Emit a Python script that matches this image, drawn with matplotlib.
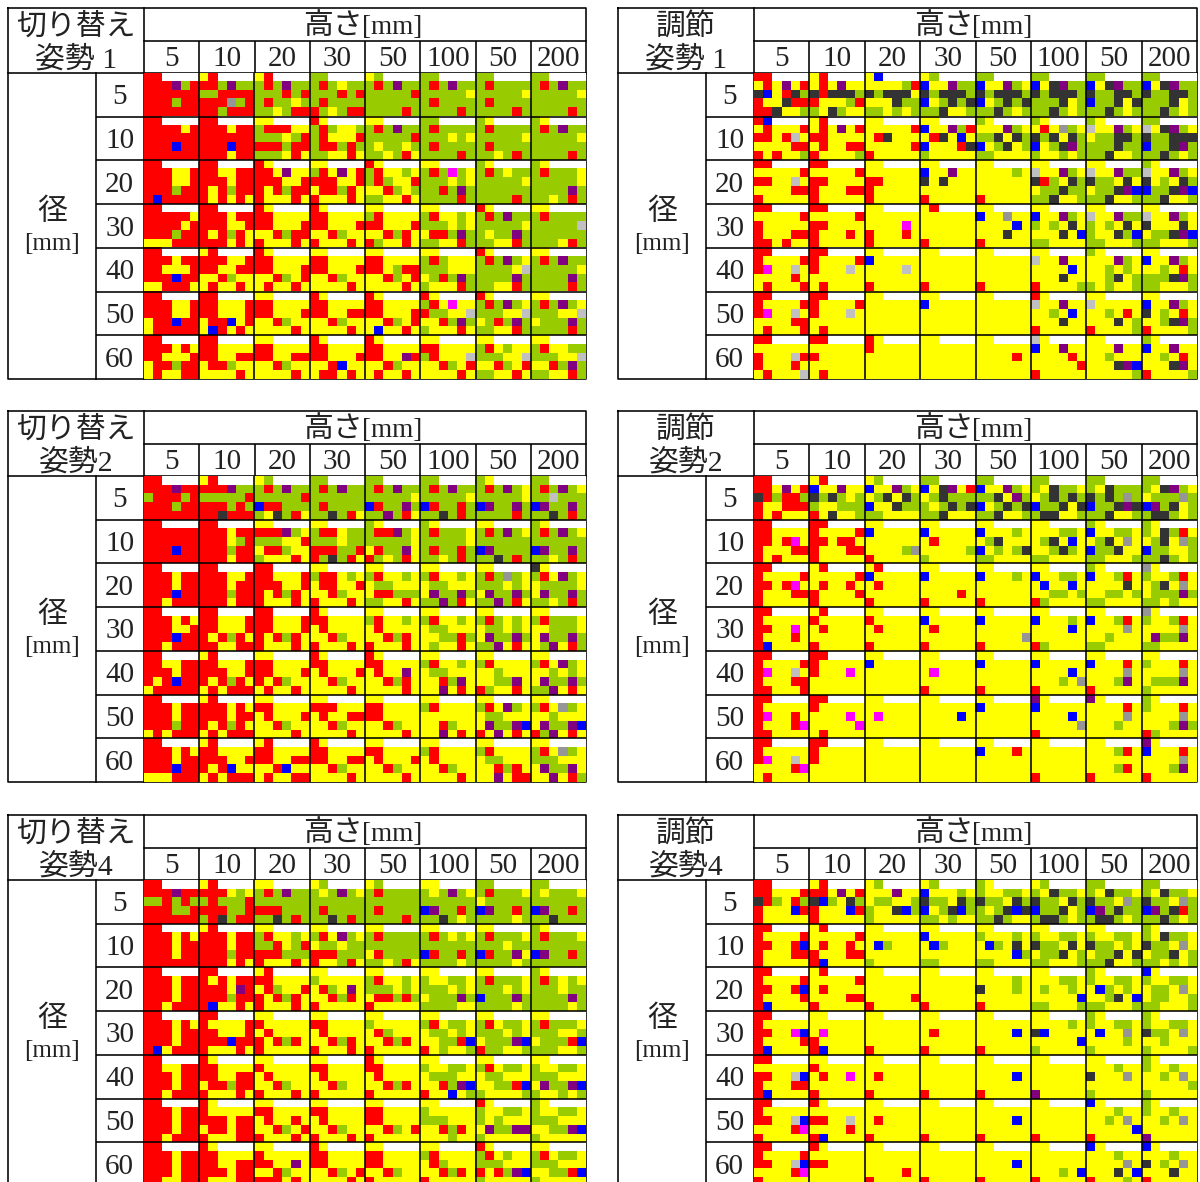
import numpy as np
import matplotlib
matplotlib.use('Agg')
import matplotlib.pyplot as plt
from matplotlib.colors import ListedColormap

# colour code of each small square
codes = 'WRYGPBKSLM'
colors = ['#FFFFFF', '#FF0000', '#FFFF00', '#99CC00', '#800080', '#0000FF',
          '#333333', '#969696', '#C0C0C0', '#FF00FF']

heights = ['5', '10', '20', '30', '50', '100', '50', '200']
diameters = ['5', '10', '20', '30', '40', '50', '60']

# one string per diameter, one token per height, rows of a cell split by /
switch_1 = [
    'RR/RRRPGR/RRRRRR/RRRGRR/RRRRRR YR/RRGPGG/GGRRRR/RRRSGR/RRGRRR YR/GRGPGG/GGGRGR/GRGGYG/GGYGRR GG/GRGYGG/GGGRGR/GRGGGG/RGYGRR YG/GRGPGG/GGGGGR/GGGGGG/GGGGRG GG/GRGPGG/GGGGGY/GRGGGG/GGGGRG GG/GRGGGG/GGGGGY/GRGGGG/GGGGRG GG/GRGPGG/GGGGGY/GGGGGG/GGGGRG',
    'RR/RRRRYR/RRRRRR/RRRBRR/RRRRRR RR/RRRYRR/RRRRRR/RRRBRR/RRRYRR YY/GRRRYY/GGGYGR/RRRGRR/GGGYRY RY/GRGYYG/GRYYYR/GRRGRG/GGYYRY YY/GRGPGG/GGGGGR/GYGGYG/GGYGRY GG/GRGGGG/GGGYGY/GRGGGG/GGGGRG GY/GRGGGG/GGGGGY/GRGGGG/GGYGRG GY/GRGPGG/GGGGGY/GGGGGG/GGGGRG',
    'RR/RRRYYR/RRRYYR/RRRGRR/RBRRRR RR/RRYYRR/RRRYRR/RYRGRR/RYRYRY RY/RRYPYY/RRRYYR/RYRGRR/RYYYRY YY/GRYPYR/RRRYYR/YRRGRY/RYYYRY RY/GRYYGY/GRGYYR/YYRGYG/GGYYRY YY/GRGMGY/GGGYGY/GGRGPG/GGGGRG GY/GRGYGG/GGGGGY/GGGGGG/GGGGRG GY/GRGGGY/GGGGGY/GGGGPG/GGYGRG',
    'RR/RRRRRY/RRRRYR/RRRGRR/YYYRRR RR/RRRYRR/RRRYYR/RYRGRY/RRRYRY RY/RRYYYY/RRYYYR/YYRGRR/RYYYRY RY/RRYYYY/RRYYYR/YYRGYY/RYYYRY YY/GRYYYY/RRYYYR/YYRGRY/RGYYRY YY/GRYYGY/GGGYGY/YRRGPG/GGYYRG RY/GRGPGG/GGGGGY/GYGGPG/GGYYRG YY/GRGGGG/GGGGGL/GGGGGG/GGGYRG',
    'RR/RRRYRR/RRYYYR/RRRBRR/YYRRRY YR/RRRYYR/RRYYRR/YYRGYY/YRYYRY RY/RRYYYY/RRYYYR/YYRGYR/YRYYRY YY/RRYYYY/RRYYYR/YYRGYY/YYYYRY YY/RRYYYY/RRYGRR/YYRGYR/YYYYRY YY/GRGYYY/GGGYYY/YGRGPG/GYYYRG RY/GRGPGY/GGGGYL/GGGGPG/GGYYRG YY/GRGPGG/GGGGGY/GGGGPG/GGGGRG',
    'RR/RRRYYR/RRRYYR/YRRBRR/YRRRRR RR/RRYYYR/RRYYYR/YRRBYR/YBRYRY YY/RRYYYY/RRYYYR/YYRGYY/YYYYRY RY/RRYYYY/RRYYRR/YYRGYY/YYYYRY RY/RRYYYY/RRYYYR/YYRGYR/YBYYRY RY/GRYMYY/RGGYYL/YYRGPG/GYYYRY RY/GRGPGY/GGGYYL/YGRGPG/GGYYRG YY/GRGPGY/GGGYYL/YGGGPG/GGGGRG',
    'RR/RRRYRY/RRYYYR/YRRGRR/YRYYRR RR/RRYYYY/RRYYRR/YRRGYY/YYYYRY YY/RRYYYY/RRYYRR/YYRGYY/YYYYRY RY/RRYYYY/RRYYYR/YYRBYY/YRRYRY RY/RRYYYY/RRYYPR/YYRGYY/YRYYRY YY/RRYYYY/GRYYYL/YYRGYR/YYYYRY YY/GRYGYY/GGGYYL/YYRGYR/GGYYRY YY/GRYYGG/GGGYYL/YYRGPG/GGYYRG',
]
adjust_1 = [
    'RR/YRYPYR/KBYRKG/RYYKRR/RRKYYG YR/YRYPYY/KRKKKG/RYYYGR/GYKGYY YB/YYYYGR/KGKKKY/YYYKGG/GGYGYG YG/BYYPGG/KGKKKG/BYGKGK/GGKYYG GG/BYYPGY/KGKKKG/BYGKGK/GGKGYG GG/BYKPGG/KGKKKG/GGGKYG/GGKGYG GG/BYKPGG/KGGKKG/BGGKYK/GGKGYG GG/BYKPGG/KGGKKG/GGGKYG/GGKGYG',
    'RB/YRYYYR/RRYRLY/YYYYRR/RYRYYG YR/YRYPYR/RRYYYY/YRYYRR/RYYYYG YY/YYYYYR/YRKYYY/YYYYYR/RYYYYY YY/BYYPGR/YRKYBY/BYYYRK/GYYYYY GY/YYYPGY/GGKYKG/BYGKYG/GGYYYY GY/YRYSGY/KGKYKG/BYGKPG/GYYGYG GY/LYYPGY/YGGKKG/GGGKGG/GGKYYG GG/LYKPGY/KGGKKK/BGGKPG/GGKGYG',
    'RR/YYYYYR/RRYYLY/YYYYRR/RYYYYY RR/YYYYYR/RRYYYY/RYYYRR/RYYYYY YY/YYYYYY/RRYYYY/RYYYYY/RYYYYY YY/BYYPYY/KYKYYY/YYYYYY/RYYYYY YY/YYYYGY/YYYYYY/YYYYYY/RYYYYY YY/LYYPGY/KRGYKG/YGGKGG/GGKYYG YY/LYYPGG/KGGYKY/YGGKPB/GGKYYG GY/LYYPGY/KYGYKG/BGGKPB/GGKYYG',
    'RR/YYYYYR/RYYYYY/RYYYRR/RRYRYY RR/YYYYYR/RRYYYY/RYYYRY/RYYYYY YY/YYYYYY/YYYYMY/RYYYRY/RYYYYY YR/YYYYYY/YYYYYY/YYYYYY/RYYYYY YY/BYYSYY/YYYYBY/YYYKYY/RYYYYY YY/BYYPGY/GYGYKY/YYYKYB/GGYYYY YY/LYYPGG/GYGYKY/GYYKGB/GGYYYG YY/LYYPGY/KYYYKY/YGGKPB/GGYYYG',
    'RR/RYYYYR/RMYYLY/YYYYRY/YRYYYR RR/RYYYYR/RYYYLY/YYYYYY/YRYYYY YY/BYYYYY/YYYYLY/YYYYYY/RYYYYY YY/YYYYYY/YYYYYY/YYYYYY/RYYYYY YY/YYYYYY/YYYYYY/YYYYYY/RYYYYY YY/LYYPYY/YYYYBY/YYYKYY/RYYYYG GY/YYYPGY/YYGYGY/YYGKYG/GYGYYG YY/BYYPGY/YYGYRY/GGGKPG/GGYYYG',
    'RR/RYYYYR/RMYYLY/YYYYRR/YRYYYR RR/RYYYYR/RYYYLY/YYYYYY/YRYYYY YY/YYYYYY/YYYYYY/YYYYYY/YYYYYY YY/BYYYYY/YYYYYY/YYYYYY/YYYYYY YY/YYYYYY/YYYYYY/YYYYYY/YYYYYY RY/LYYPYY/YYGYBY/YYYKYY/RYYYYY YY/LYYYYY/YYGYRY/YYYKYG/RYYYYG YY/BYYPGY/KYGYRY/YYGKPG/RYYYYG',
    'RR/YYYYYY/RYYYLR/RYYYRY/YRYYYL RR/YYYYYY/RYYYYY/YYYYYY/YRYYYY RY/RYYYYY/YYYYYY/YYYYYY/YYYYYY YY/YYYYYY/YYYYYY/YYYYYY/YYYYYY YY/YYYYYY/YYYYRY/YYYYYY/YYYYYY LY/BYYPYY/YYYYRY/YYYYYR/RYYYYY YY/YYYPYY/YYGYYY/YYYKPB/YYYYYG GY/BYYPYY/YYGYRY/YYYKPY/RYYYYG',
]
switch_2 = [
    'RR/RRRPRR/GRRRGR/RRRGRR/RRRRRR YR/RRRPGG/GGGGGR/RRRGRG/RRKRRR YG/GRGPGG/GGGGGR/BRRGGG/GYKGRY GG/GRGPGG/GGGGGG/GRGGGG/GGKGRY GG/GRGPGG/GGGGGY/BRGGPG/GGPGRY GG/GRGPGG/GGGGGY/BRGGRG/GGKGRG GY/GRGPGY/GGGGGY/BPGGPG/GGGGRG GG/GRGPGY/GGLGGG/BPGGPG/GGKGRG',
    'RR/RRRRRR/RRRRRR/RRRBRR/RRRRRR RR/RRRYRR/RRRYGR/RRRGRR/RRRYRR YY/RRRPGY/GGGYYR/YRRGYY/GYYYRY YY/GRRYGG/GGGYGG/RRRGGR/RGKGRY GY/GRRPGY/GGGGGY/YRGGPY/RGYGRY GY/GRGGGY/GGGGGY/GRGGRG/GGYGRG YY/GRGPGY/GGGGGG/BPGGGG/GGKGRG GY/GRGPGY/GGGGGG/BPGGPG/GGYGRG',
    'RR/RRRYRR/RRRYRR/RRRBRR/RRYRRR RR/RRRYYR/RRRYRR/RRRGRR/RRRYRR RR/RRYYYR/RRRYYR/RYRGRY/RYYYRY YY/GRRYGY/YRRYYR/YYRGYY/RYYYRY YY/GRYYGY/YGGYYY/YRRGGG/GGYYRY YY/GRYYGY/YGGYYY/YPGGPG/GGPGRY YY/GRGSGY/GGGYGY/YPGGPG/GGPGRY KY/GRYPGY/YGGGGY/YPGGPG/GGYGRG',
    'RR/RRRYRY/RRRYYR/RRRBRR/RRYRRR RR/RRYYYR/RRYYYR/RYRGRY/RRYYRR RR/RRYYYR/RRYYYR/RYRGRY/RYYYRY RY/RRYYYY/YRYYYY/YYRGYY/RYYYRY YY/GRYYGY/YRYYYY/YYRGRY/RYYYRY YY/GRYYGY/YGGYYY/YYGGRG/YGYYRY YY/GRGYGY/YGGYGY/YPGGPG/GGPYRY YY/GRGGGY/YYGGGY/YPGGPG/YGPYRG',
    'RR/RRYYRR/RRRYRR/RYRBRR/YRRRRR YR/RRYYYR/RRRYYR/RYRGRY/YRYRRR YY/RRYYYY/RRYYYR/RYRGYY/YRYYRY RY/RRYYYY/YRYYYR/YYRGYY/YYYYRY RY/RRYYYY/YRYYPY/YYRGRY/YYYYRY YY/GRYYGY/YGGYYY/YYRGPY/YYPYRY YY/GRYYYY/YYGYYY/YYGGPY/RGYYRY YY/GRYPGY/YYGYGY/YPGGPG/GGPYRY',
    'RR/RRRYRR/RRRYRR/RRRGRR/YRYRRR YR/RRRYRY/RRRYRR/RYRGRY/YRYRRR YY/RRYYYY/YRYYYR/YYRGYY/YYYYRY YY/RRRYYY/YRYYRR/YYRGYY/YYYYRY YY/RRYYYY/RRYYYY/YYRGYY/YYYYRY YY/GRYYYY/YYYYYY/YYRGYY/YYPYRY YY/GRYPGY/YGGYYY/YPGGPB/RYPYRY YY/GRYSGY/YYGYYY/YPGGPB/RGPYRY',
    'RR/RRRYRY/RRRYRR/RRRBRR/YYYRRR YR/RRYYYY/RRRYYR/RYRBYY/YRYRRR YR/RRYYYY/RRYYRR/YYRBYY/YRYYRR RY/RRYYYY/RRYYRR/YYRGYY/YYYYRY YY/RRYYYY/YRYYYR/YYRGYY/YYYYRY YY/GRYYYY/YRYYYY/YYRGYY/YYYYRY YY/GRYYYY/YGGYYY/YYRGRY/YYPYRR YY/GRYSGY/GGGYYY/YPGGPY/YYPYRG',
]
adjust_2 = [
    'RR/RRYPYR/KRGRRG/RYYRRR/RYRYYY YR/BYYPYY/KGKGYG/GYYGGG/RYKYYG YG/BYYPGY/YGKYKG/BYYKGG/GGYYYY GG/BYKPYR/YGKGGG/GYGKGK/GGKYYY GG/BYYPGY/GGKYPG/BYGKGK/GGKYYG GG/GYKGGY/YGKGKG/BGGKYK/GKKYYG GG/GYKGGG/KGKGSG/BGGKPK/GGKYYG GG/GYKPGY/YGGGSG/BPGKYG/GKKGYG',
    'RR/RRYYYY/RRYRMY/RYYYRR/RYRYYY RR/RYYYYR/RRYRRY/RYYYRR/RYYYYY YY/BYYYYY/YYYYYY/YYYYGS/RYYYYY YY/BYYYYY/YRYYYY/YYYYYG/GYYYYY YY/BYYYGY/YGKYYY/BYGYGK/GGYYYY YY/YYYGGY/YGKYBY/YYGKGY/GGYYYY GY/BYYGGY/YGKYSY/BGGKYY/GGYYYG GY/GYKGRY/YGKYSG/BGGYYG/GGKGYG',
    'RR/RYYYYR/RRYRMY/RYYYRR/RYYYYY YR/YYYYYR/YRYYRY/RYYYYR/RYYYYY YR/BYYYYY/YRYYYY/YYYYYY/RYYYYY YY/BYYYYY/YYYYYY/YYYYRY/RYYYYY YY/BYYYGY/YYYYYY/YYYYYY/RYYYYY YY/BYYGGY/YBYYBY/YYGGYG/RGYYYY GY/BYYGRY/YYYYKY/YYGGYG/GGYYYY SY/GYYGRY/YGKYSY/YGGGPG/GGYGYY',
    'RR/RYYYYY/RRYYMY/RYYYRY/RBYYYY YR/RYYYYY/YRYYYY/YYYYYY/RYYYYY YY/RYYYYY/YRYYYY/YYYYYY/RYYYYY YY/BYYYYY/YRYYYY/YYYYYY/RYYYYY YY/BYYYYY/YYYYYY/YYYYYS/RYYYYY YY/BYYYGY/YYYYBY/YYYYYY/RGYYYY YY/BYYGRY/YYYYSY/YYGYYY/GGYYYY SY/GYYGRY/YYYYSY/YPGGPY/GGYYYY',
    'RR/RYYYYR/RMYYLY/RYYYRR/RRYYYR RR/RYYYYY/RYYYMY/YYYYYY/YYYYYY YY/BYYYYY/YYYYYY/YYYYYY/YYYYYY YY/YYYYYY/YMYYYY/YYYYYY/RYYYYY YY/BYYYYY/YYYYYY/YYYYYY/RYYYYY YY/BYYYYY/YYYYBY/YYYGYS/RYYYYY YY/BYYYRY/YYYYSY/YYYGPY/RYYYYY YY/GYYYRY/YYYYSY/YGGGPY/GYYYYY',
    'RR/RYYYYY/RMYYRY/RYYYRM/RRYYYY RR/RYYYYY/YYYYMY/YYYYYM/YRYYYY YY/YYYYYY/YMYYYY/YYYYYY/YYYYYY YY/YYYYYY/YYYYBY/YYYYYY/YYYYYY YY/BYYYYY/YYYYYY/YYYYYY/YYYYYY PY/BYYYYY/YYYYBY/YYYYYS/RYYYYY PY/YYYYRY/YYYYSY/YYYGYY/YYYYYY GY/GYYYRY/YYYYSY/YYYGPG/RGYYYY',
    'RR/RYYYYY/RMYYLY/YYYYRM/YRYYYY RR/RYYYYY/RYYYYY/YYYYYY/YYYYYY YY/YYYYYY/YYYYYY/YYYYYY/YYYYYY YY/YYYYYY/YYYYYY/YYYYYY/YYYYYY YY/BYYYRY/YYYYYY/YYYYYY/YYYYYY YY/YYYYYY/YYYYYY/YYYYYY/RYYYYY YY/YYYGRY/YYYYYY/YYYGRY/RYYYYY PY/BYYYRY/YYYYSY/YYYGPY/RYYYYY',
]
switch_4 = [
    'RR/RRRPRR/GGRGRG/RRRGGR/RRRRRR YR/RRRYGY/GRGGGR/RRRGGR/GRKGRR YY/GRGPGG/GGGGGG/RRRGGG/GGKGRG YG/GYGPGY/GGGGGG/GRGGGG/GGKGRG YG/GRGGGG/GGGGGG/GRGGGG/GGGGRG YY/GYGPGY/GGGGGG/BPGGRG/GGKGYG GG/GRGGGY/YGGGGG/BPGGRG/GGGGYG GG/GYGGGY/GGGGGG/BPGGRG/GGKGGG',
    'RR/RRRYRY/RRRYRR/RRRYRR/RRRRRR YR/RRRYRR/RRRYRR/RRRGRR/RRRYRY YY/GRYYGY/GGRYGR/RRRGGG/RYYYRY YY/GRYPGY/YGGYGG/RRRGGG/RYYGRY YY/GRGGGG/GGGGGG/YRGGGG/GGYGRY YY/GRGYGY/GGGGGG/BRGGRG/GGGGYG YY/GRGGGY/GGGYGG/BRGGPY/GGGGYG GY/GRGGGY/GGGGGG/BPGGRG/GGGGGG',
    'RR/RRRYRR/RRRYRR/RRRYRR/RRYRRR RR/RYRYRR/RRRYPR/RRRGRR/RBYYRY YR/RRYYYY/YRGYYR/RYRGRY/RYYYRY YY/GYYYYY/YRGYPY/YYRGRY/RYYYYY YY/GRYYGY/GGGYGY/YRRGRG/RYYYYY YY/GYYGGY/GGGYGY/YGGGPG/GGGGYY YY/GRGGGY/GGGYGY/BGGGPG/GGGGYG GY/GRGYGY/GGGYGG/GGGGPG/GGGGYG',
    'RR/RRRYRY/RRRYRR/RRRYRR/RBYRRR RR/RYYYYR/RRYYYR/RRRBRR/RYYYRY YY/RYYYYY/YRYYYY/RYRGRY/RYYYYY YY/RRYYYY/YRYYYY/YYRGRY/RYYYRY YY/GYYYYY/YRGYYY/YYRGRY/RYYYYY YY/GRYGGY/YGGYGY/YYGGRB/RYGYYG YY/GRYGGY/GGGYGY/YGGGPB/RGGYYG YY/GRGGGY/GGGYYG/YGGGRB/GGGYYG',
    'RR/RRYYRR/RRRYRR/RRRYRR/RRYRRR RY/RRYYYY/RRYYRR/YRRGRR/RYYYRY YY/RYYYYY/YRYYYY/YYRGYY/RYYYRY YY/RRYYYY/YRYYYY/YYRGYY/RYYYYY RY/RRYYYY/YRYYYY/YYRGRY/RYYYYY YY/GYYGGY/YGGGYY/YYRGPB/RYYBYG YY/GRYGGY/YGGYYY/YYGGRB/GYYYYG YY/GYYGGY/GGGYYY/YPGGPB/GYYGYG',
    'RR/RRRYRR/RRRYRR/RRRYRR/RRYRRR RY/RYYYYY/RRRYRR/YRRYRR/RYYYRR YY/RRYYYY/YRYYRY/YYRGYR/RYYYRY YY/RRYYYY/YRYYYY/YYRGYY/RYYYRY YY/RRYYYY/RRYYYY/YYRGYR/RYYYYY YY/GYYYYY/GGGYYY/YYRGRY/YYYGYY RY/GYYGGY/GYGYYY/YPGGPP/GYYYYY GY/GYYGGY/GGGYYY/YYGGPB/GYYYYY',
    'RR/RRRYRR/RRRYRR/RRRYRR/RRYYRR RY/RRYYYY/RRYYRR/RRRYRR/RYYYRR YY/RYYYYY/RRYYPY/YYRGYY/RRRYRY RY/RRYYYY/RRYYYY/YYRGYR/YYYYRY YY/RRYYYY/RRYYYY/YYRGYY/RYYYYY YY/GRYYYY/YRGYYY/YYRGRY/RYYYYY RY/GRYGYY/GGGYYY/RYRGPB/GYYYYY YY/GRYGGY/GGGYYY/YYGGRB/GYYYYY',
]
adjust_4 = [
    'RR/RRYYYR/KRGYRG/RYYYBR/RYYYYY YR/RRYPYR/KBGYKG/RYYYBR/RYYYYY YG/YYYPYY/YGGYYG/GYYKBG/GYYYYY YG/BYYYGY/KGGYKG/BYGKBG/GGYGYY GY/GYYGGY/KGGYKG/GYGKBK/GGKGYY YG/GYKGGY/KGGYKG/BGGKYG/GKKGYG GG/GYKGGY/KGGYSG/BPGKGG/GKKGYG GG/GYKGGY/KGGYSG/BPGKRG/GGKGYG',
    'RR/RYYYYR/RRYYRB/RYYYRR/RYYYYY YR/YYYYYR/YRYYRY/RYYYRR/RBYYYY YY/YYYYYY/YBGYYY/YYYYYY/GYYYYY YY/BYYYYY/YBGYYY/YYYYYY/GGYYYY YY/GYYYGY/YBGYKY/YYYYBG/GGYYYY YY/GYYGGY/KGGYKY/YGGKYG/GGYYYG YY/GYYGGY/KGGYGY/YGGKYK/GGKYYG GY/GYKGGY/KGGYSY/YGGKYG/GGYGYG',
    'RR/RYYYYR/RRYYRB/RYYYYR/RBYYYY YR/YYYYYR/YRYYYY/YYYYRR/RYYYYY YY/YYYYYY/YYYYYY/YYYYYR/RYYYYY YY/YYYYYY/YYYYYY/YYYYYY/RYYYYY YY/YYYYGY/KYYYGY/YYYYYY/RYYYYY YY/YYYGGY/YGYYGY/YYYYYB/GGYYYG GY/GYYGGY/YBGYGY/YYGKYB/GGYYYG BY/GYYGGY/YGGYSY/YGGYYG/GGYYYG',
    'RR/RYYYYY/RRYYMB/RYYYYR/RBYYYY YY/YYYYYY/YMYYYY/RYYYYY/RBYYYY YY/YYYYYY/YYYYYY/YYYYYY/RYYYYY YY/YYYYYY/YRYYYY/YYYYYY/RYYYYY YY/YYYYYY/YYYYBY/YYYYYY/RYYYYY YY/YYYYGY/KBYYYY/YYYYYB/GYYYYY GY/GYYGGY/YBYYSY/YYYYGY/GYYYYY GY/GYYGGY/KGGYSY/YYGYYY/GYYYYG',
    'RR/YYYYYY/RRYYLB/RYYYRR/RBYYYY YY/RYYYYY/YRYYMY/YYYYYY/RYYYYY YY/YYYYYY/YRYYYY/YYYYYY/RYYYYY YY/YYYYYY/YYYYYY/YYYYYY/RYYYYY YY/YYYYYY/YYYYBY/YYYYYY/RYYYYY YY/YYYYYY/YYYYYY/YYYYYY/PYYYYY YY/YYYGYY/KYYYSY/YYYYYY/GYYYYY GY/GYYGYY/YYGYSY/YYYYYG/GYYYYY',
    'RR/RYYYYY/RRYYLB/YYYYRM/RYYYYY RY/YYYYYY/RRYYLY/YYYYRY/RBYYYY YY/YYYYYY/YRYYYY/YYYYYY/RYYYYY YY/YYYYYY/YYYYYY/YYYYYY/RYYYYY YY/YYYYYY/YYYYBY/YYYYYY/RYYYYY YY/YYYYYY/YYYYYY/YYYYYY/RYYYYY BY/YYYGYY/YYGYSY/YYYYYB/RYYYYY GY/GYYGYY/YYGYSY/YYYYYY/PYYYYY',
    'RR/RYYYYR/RRYYLB/YYYYRM/RYYYYY RY/YYYYYY/RRYYYY/YYYYYY/YYYYYY YY/YYYYYY/YYYYYY/YYYYRY/RYYYYY YY/YYYYYY/YYYYYY/YYYYYY/RYYYYY YY/YYYYYY/YYYYBY/YYYYYY/RYYYYY YY/YYYYYY/YYYYYY/YYYGYB/RYYYYY BY/YYYGYY/YYYYSY/YYYKYB/RYYYGY BY/YYYGYY/KYGYSY/YYYKYY/RYYYYY',
]

# label 1, label 2, data, frame left and top in pixels
panels = [
    ('切り替え', '姿勢 1', switch_1, 8, 8),
    ('調節', '姿勢 1', adjust_1, 618, 8),
    ('切り替え', '姿勢2', switch_2, 8, 411),
    ('調節', '姿勢2', adjust_2, 618, 411),
    ('切り替え', '姿勢4', switch_4, 8, 815),
    ('調節', '姿勢4', adjust_4, 618, 815),
]


def to_grid(rows):
    grid = np.zeros((len(rows) * 5, 48), dtype=int)
    for i, row in enumerate(rows):
        for j, cell in enumerate(row.split()):
            parts = cell.split('/')
            parts[0] = parts[0] + 'WWWW'
            for k, part in enumerate(parts):
                grid[i * 5 + k, j * 6:j * 6 + 6] = [codes.index(c) for c in part]
    return grid


W, H = 1200, 1182
plt.rcParams['font.family'] = ['Liberation Serif', 'Noto Sans CJK JP']
plt.rcParams['text.color'] = '#222222'
fig = plt.figure(figsize=(W / 100, H / 100), dpi=100)

# whole figure axes in pixels, used for the table frames and the labels
page = fig.add_axes([0, 0, 1, 1])
page.set_xlim(0, W)
page.set_ylim(H, 0)
page.axis('off')

cmap = ListedColormap(colors)
lw = 1.15
num_size = 21
jp_size = 21.5

for label1, label2, rows, left, top in panels:
    x1, x2 = left + 87.5, left + 136
    x3 = left + (578 if left < 100 else 579)
    y1, y2, y3 = top + 32.5, top + 65, top + 371

    ax = fig.add_axes([x2 / W, 1 - y3 / H, (x3 - x2) / W, (y3 - y2) / H], zorder=2)
    ax.imshow(to_grid(rows), cmap=cmap, vmin=0, vmax=len(colors) - 1,
              aspect='auto', interpolation='nearest')
    ax.vlines(np.arange(1, 8) * 6 - 0.5, -0.5, 34.5, color='black', lw=lw)
    ax.hlines(np.arange(1, 7) * 5 - 0.5, -0.5, 47.5, color='black', lw=lw)
    ax.set_xticks([])
    ax.set_yticks([])
    for s in ax.spines.values():
        s.set_visible(False)

    # table frame
    col_w = (x3 - x2) / 8
    row_h = (y3 - y2) / 7
    page.plot([left, x3, x3, left, left], [top, top, y3, y3, top], color='black', lw=lw)
    page.plot([x2, x2], [top, y3], color='black', lw=lw)
    page.plot([left, x3], [y2, y2], color='black', lw=lw)
    page.plot([x2, x3], [y1, y1], color='black', lw=lw)
    page.plot([x1, x1], [y2, y3], color='black', lw=lw)
    page.vlines(x2 + np.arange(1, 8) * col_w, y1, y2, color='black', lw=lw)
    page.hlines(y2 + np.arange(1, 7) * row_h, x1, x2, color='black', lw=lw)

    # labels
    mid = (x2 + x3) / 2
    page.text((left + x2) / 2, top + 19, label1, ha='center', va='center', fontsize=jp_size)
    page.text((left + x2) / 2, top + 52, label2, ha='center', va='center', fontsize=jp_size)
    page.text(mid - 2, top + 26, '高さ', ha='right', va='baseline', fontsize=jp_size)
    page.text(mid - 3, top + 26, '[mm]', ha='left', va='baseline', fontsize=19.5)
    page.text((left + x1) / 2, top + 204, '径', ha='center', va='center', fontsize=jp_size)
    page.text((left + x1) / 2, top + 236, '[mm]', ha='center', va='center', fontsize=18)
    for n, h in enumerate(heights):
        page.text(x2 + (n + 0.5) * col_w, top + 51, h, ha='center', va='center', fontsize=num_size)
    for n, d in enumerate(diameters):
        page.text((x1 + x2) / 2, y2 + (n + 0.5) * row_h + 2.5, d, ha='center', va='center', fontsize=num_size)

fig.savefig('out.png', dpi=100)
